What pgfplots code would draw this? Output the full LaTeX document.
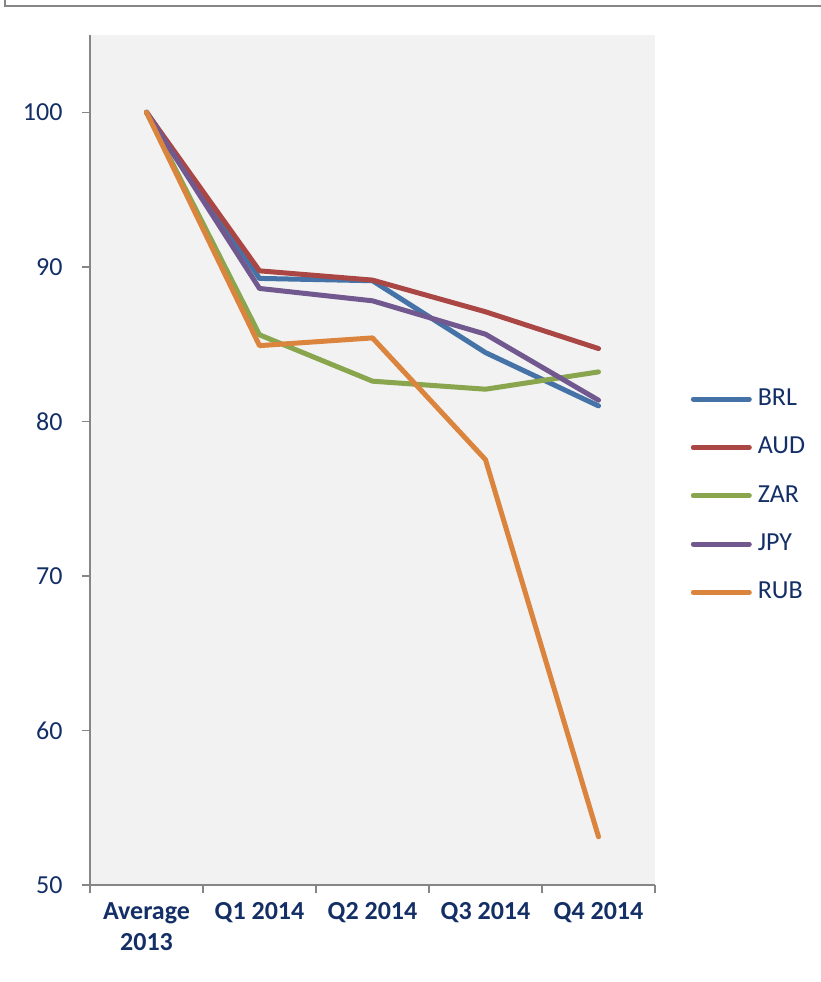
\documentclass[border=0pt]{standalone}
\usepackage{fontspec}
\setmainfont{Carlito}
\usepackage{pgfplots}
\pgfplotsset{compat=1.18}
\definecolor{cBRL}{HTML}{4572A7}
\definecolor{cAUD}{HTML}{AA4643}
\definecolor{cZAR}{HTML}{89A54E}
\definecolor{cJPY}{HTML}{71588F}
\definecolor{cRUB}{HTML}{DB843D}
\definecolor{txt}{HTML}{142F66}
\definecolor{axisgray}{HTML}{868686}
\definecolor{bg}{HTML}{F2F2F2}
\begin{document}
\begin{tikzpicture}[x=1pt,y=1pt]
\useasboundingbox (0,0) rectangle (821,982);
\begin{axis}[
  at={(90pt,97pt)}, anchor=south west,
  scale only axis, width=565pt, height=850pt,
  xmin=-0.5, xmax=4.5, ymin=50, ymax=105,
  axis background/.style={fill=bg},
  axis x line=bottom, axis y line=left,
  axis line style={-, axisgray, line width=1.5pt},
  xtick={-0.5,0.5,1.5,2.5,3.5,4.5},
  x tick label as interval=true,
  xticklabels={{Average\\2013},{Q1 2014},{Q2 2014},{Q3 2014},{Q4 2014}},
  ytick={50,60,70,80,90,100},
  tick align=outside,
  major tick length=8pt,
  tick style={axisgray, line width=1.5pt},
  every tick label/.append style={font=\fontsize{26}{31}\selectfont, text=txt},
  x tick label style={font=\fontsize{26}{31}\selectfont\bfseries, align=center, yshift=-6pt},
  y tick label style={xshift=-16pt},
  /pgf/number format/assume math mode=true,
  legend style={at={(1.063,0.458)}, anchor=west, draw=none, fill=none,
    font=\fontsize{26}{31}\selectfont, text=txt, inner sep=0pt,
    row sep=25.3pt,
    nodes={text height=18pt, text depth=5pt, inner sep=0pt}},
  legend cell align=left,
  legend image code/.code={\draw[#1, line cap=round] (0pt,0pt) -- (56pt,0pt);},
  every axis plot/.append style={line width=5pt, line join=round, line cap=round},
]
\addplot[cBRL] coordinates {(0,100) (1,89.25) (2,89.1) (3,84.45) (4,81.0)};
\addplot[cAUD] coordinates {(0,100) (1,89.74) (2,89.14) (3,87.09) (4,84.71)};
\addplot[cZAR] coordinates {(0,100) (1,85.6) (2,82.6) (3,82.08) (4,83.2)};
\addplot[cJPY] coordinates {(0,100) (1,88.6) (2,87.8) (3,85.64) (4,81.37)};
\addplot[cRUB] coordinates {(0,100) (1,84.9) (2,85.4) (3,77.52) (4,53.12)};
\legend{\hspace{6pt}BRL,\hspace{6pt}AUD,\hspace{6pt}ZAR,\hspace{6pt}JPY,\hspace{6pt}RUB}
\end{axis}
\draw[axisgray, line width=1.5pt] (5,982) -- (5,976) -- (821,976);
\end{tikzpicture}
\end{document}
